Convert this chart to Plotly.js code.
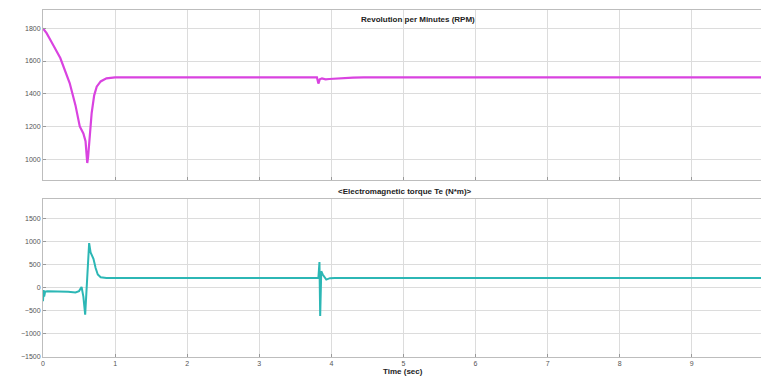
<!DOCTYPE html>
<html>
<head>
<meta charset="utf-8">
<script src="https://cdn.plot.ly/plotly-3.0.1.min.js"></script>
<style>html,body{margin:0;padding:0;background:#fff;}#chart{width:761px;height:378px;}</style>
</head>
<body>
<div id="chart"></div>
<script>
// Speed (RPM) samples
var t_rpm = [0, 0.05, 0.12, 0.24, 0.37, 0.45, 0.51, 0.56, 0.59, 0.605, 0.614, 0.625, 0.645, 0.675, 0.71, 0.745, 0.8, 0.88, 1.0, 3.8, 3.82, 3.84, 3.87, 3.92, 3.97, 4.1, 4.3, 4.45, 9.96];
var rpm   = [1800, 1770, 1715, 1618, 1465, 1330, 1200, 1157, 1110, 1030, 976, 1010, 1130, 1282, 1390, 1443, 1475, 1494, 1500, 1500, 1462, 1488, 1494, 1488, 1490, 1494, 1498, 1500, 1500];

// Electromagnetic torque samples
var t_te = [0, 0.008, 0.016, 0.03, 0.06, 0.2, 0.35, 0.45, 0.5, 0.535, 0.56, 0.585, 0.61, 0.64, 0.66, 0.7, 0.73, 0.76, 0.8, 0.88, 1.0, 3.82, 3.835, 3.845, 3.86, 3.88, 3.93, 3.98, 4.05, 9.96];
var te   = [-300, -60, -200, -90, -85, -85, -95, -110, -80, 10, -200, -590, 100, 960, 760, 620, 420, 280, 220, 205, 205, 205, 550, -620, 350, 280, 170, 200, 205, 205];

var xTicks = [0, 1, 2, 3, 4, 5, 6, 7, 8, 9];
var rpmTicks = [1000, 1200, 1400, 1600, 1800];
var teTicks = [-1500, -1000, -500, 0, 500, 1000, 1500];

var titleTop = "Revolution per Minutes (RPM)";
var titleBottom = "<Electromagnetic torque Te (N*m)>";
var titleX = "Time (sec)";

var gridC = "#dcdcdc";
var lineC = "#bdbdbd";
var tickFont = {family: "Liberation Sans, Arial, sans-serif", size: 7, color: "#555"};

var traces = [
  {x: t_rpm, y: rpm, xaxis: "x", yaxis: "y", mode: "lines", line: {color: "#d943e0", width: 2.2}, hoverinfo: "skip"},
  {x: t_te, y: te, xaxis: "x2", yaxis: "y2", mode: "lines", line: {color: "#2cb7b5", width: 2}, hoverinfo: "skip"}
];

var axCommon = {
  showgrid: true, gridcolor: gridC, gridwidth: 1,
  showline: true, linecolor: lineC, linewidth: 1, mirror: true,
  zeroline: false, ticks: "inside", ticklen: 3, tickcolor: "#999",
  tickfont: tickFont
};

var layout = {
  width: 761, height: 378,
  margin: {l: 43, r: 0, t: 10, b: 21},
  paper_bgcolor: "#fff", plot_bgcolor: "#fff",
  showlegend: false,
  xaxis: Object.assign({}, axCommon, {domain: [0, 1], anchor: "y", range: [0, 9.96], tickvals: xTicks, showticklabels: false}),
  yaxis: Object.assign({}, axCommon, {domain: [0.510, 1], anchor: "x", range: [872, 1912], tickvals: rpmTicks}),
  xaxis2: Object.assign({}, axCommon, {domain: [0, 1], anchor: "y2", range: [0, 9.96], tickvals: xTicks, ticktext: xTicks.map(String)}),
  yaxis2: Object.assign({}, axCommon, {domain: [0, 0.4553], anchor: "x2", range: [-1510, 1918], tickvals: teTicks}),
  annotations: [
    {text: "<b>" + titleTop + "</b>", xref: "paper", yref: "paper", x: (418-43)/718, y: (357-19)/347, xanchor: "center", yanchor: "middle", showarrow: false, font: {family: "Liberation Sans, Arial, sans-serif", size: 8, color: "#222"}},
    {text: "<b>" + titleBottom.replace(/</g, "&lt;").replace(/>/g, "&gt;") + "</b>", xref: "paper", yref: "paper", x: (405-43)/718, y: (357-191)/347, xanchor: "center", yanchor: "middle", showarrow: false, font: {family: "Liberation Sans, Arial, sans-serif", size: 8, color: "#222"}},
    {text: "<b>" + titleX + "</b>", xref: "paper", yref: "paper", x: (403-43)/718, y: (357-371)/347, xanchor: "center", yanchor: "middle", showarrow: false, font: {family: "Liberation Sans, Arial, sans-serif", size: 8, color: "#222"}}
  ]
};

Plotly.newPlot("chart", traces, layout, {staticPlot: true, displayModeBar: false});
</script>
</body>
</html>
